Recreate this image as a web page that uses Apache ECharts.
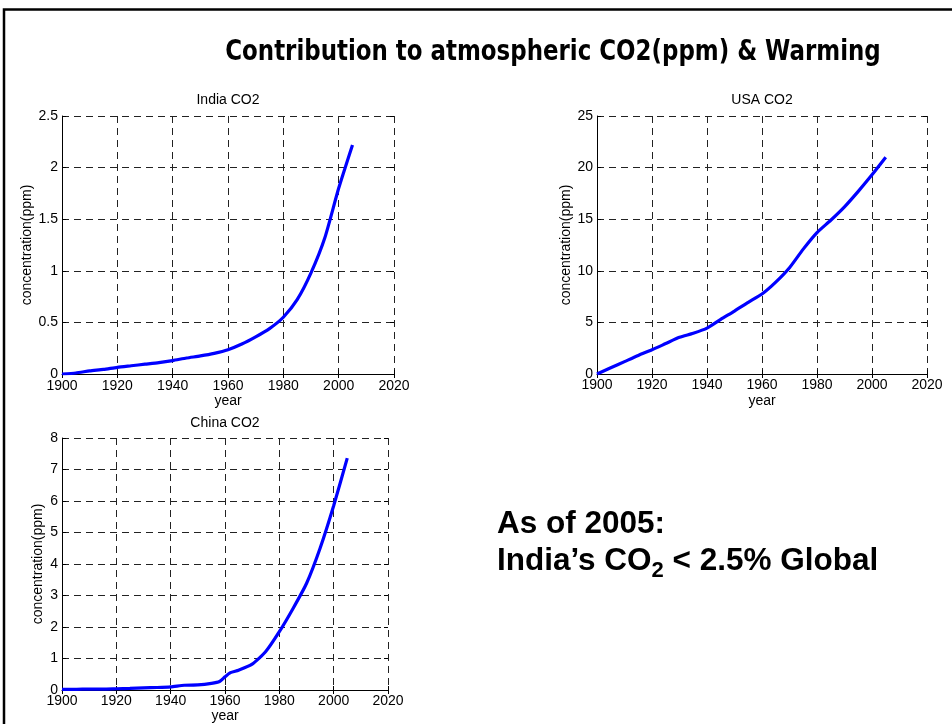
<!DOCTYPE html>
<html><head><meta charset="utf-8">
<script src="https://cdn.jsdelivr.net/npm/echarts@6/dist/echarts.min.js"></script>
<style>html,body{margin:0;padding:0;background:#fff}#chart{width:952px;height:724px}</style>
</head><body><div id="chart"></div>
<script>
// ---- data ----
const years = [1900,1905,1910,1915,1920,1925,1930,1935,1940,1945,1950,1955,1960,1965,1970,1975,1980,1985,1990,1995,2000,2005];
const indiaCO2 = [0,0.01,0.03,0.045,0.065,0.08,0.095,0.11,0.13,0.155,0.175,0.2,0.235,0.29,0.36,0.44,0.55,0.72,0.98,1.32,1.8,2.22];
const usaCO2 = [0,0.6,1.2,1.8,2.35,2.95,3.55,3.95,4.45,5.3,6.1,6.95,7.75,8.9,10.3,12.1,13.7,14.9,16.2,17.7,19.3,21.0];
const chinaYears = [1900,1905,1910,1915,1920,1925,1930,1935,1940,1945,1950,1955,1958,1960,1962,1965,1970,1975,1980,1985,1990,1995,2000,2005];
const chinaCO2 = [0.02,0.02,0.03,0.03,0.04,0.05,0.07,0.08,0.1,0.15,0.16,0.21,0.27,0.42,0.55,0.63,0.82,1.22,1.85,2.58,3.38,4.5,5.85,7.36];
const xTicks = [1900,1920,1940,1960,1980,2000,2020];
const indiaTicks = [0,0.5,1,1.5,2,2.5];
const usaTicks = [0,5,10,15,20,25];
const chinaTicks = [0,1,2,3,4,5,6,7,8];
const panelTitles = ['India CO2','USA CO2','China CO2'];
const mainTitle = 'Contribution to atmospheric CO2(ppm) & Warming';
const xName = 'year';
const yName = 'concentration(ppm)';

// ---- layout ----
const panels = [
  {grid:{left:62, top:116, width:332, height:258}, x:years, y:indiaCO2, yt:indiaTicks, title:panelTitles[0], tx:228, ty:100, nameGap:27, xMargin:5, xNameGap:20},
  {grid:{left:597, top:116, width:330, height:258}, x:years, y:usaCO2, yt:usaTicks, title:panelTitles[1], tx:762, ty:100, nameGap:24, xMargin:4, xNameGap:20},
  {grid:{left:62, top:438, width:326, height:254}, x:chinaYears, y:chinaCO2, yt:chinaTicks, title:panelTitles[2], tx:225, ty:423, nameGap:17, xMargin:4, xNameGap:19}
];
const FONT = "'Liberation Sans', Arial, Helvetica, sans-serif";
const FS = 14;
const gridLine = {show:true, lineStyle:{color:'#222', width:1, type:[7,5]}};

const grid=[], xAxis=[], yAxis=[], series=[], graphic=[];
panels.forEach((p,i)=>{
  grid.push(Object.assign({containLabel:false}, p.grid));
  const xmin=xTicks[0], xmax=xTicks[xTicks.length-1], xint=xTicks[1]-xTicks[0];
  const ymin=p.yt[0], ymax=p.yt[p.yt.length-1], yint=p.yt[1]-p.yt[0];
  xAxis.push({type:'value', gridIndex:i, min:xmin, max:xmax, interval:xint, position:'bottom',
    name:xName, nameLocation:'middle', nameGap:p.xNameGap, nameTextStyle:{color:'#000', fontSize:FS, fontFamily:FONT},
    axisLine:{show:true, onZero:false, lineStyle:{color:'#000', width:1}},
    axisTick:{show:true, inside:true, length:4, lineStyle:{color:'#000'}},
    axisLabel:{color:'#000', fontSize:FS, fontFamily:FONT, margin:p.xMargin, formatter:v=>String(v)},
    splitLine:gridLine});
  xAxis.push({type:'value', gridIndex:i, min:xmin, max:xmax, interval:xint, position:'top',
    axisLine:{show:false}, axisTick:{show:true, inside:true, length:4, lineStyle:{color:'#000'}},
    axisLabel:{show:false}, splitLine:{show:false}});
  yAxis.push({type:'value', gridIndex:i, min:ymin, max:ymax, interval:yint, position:'left',
    name:yName, nameLocation:'middle', nameGap:p.nameGap, nameTextStyle:{color:'#000', fontSize:FS, fontFamily:FONT},
    axisLine:{show:true, onZero:false, lineStyle:{color:'#000', width:1}},
    axisTick:{show:true, inside:true, length:4, lineStyle:{color:'#000'}},
    axisLabel:{color:'#000', fontSize:FS, fontFamily:FONT, margin:4, formatter:v=>String(v)},
    splitLine:gridLine});
  yAxis.push({type:'value', gridIndex:i, min:ymin, max:ymax, interval:yint, position:'right',
    axisLine:{show:false}, axisTick:{show:true, inside:true, length:4, lineStyle:{color:'#000'}},
    axisLabel:{show:false}, splitLine:{show:false}});
  series.push({type:'line', xAxisIndex:2*i, yAxisIndex:2*i, data:p.x.map((v,k)=>[v,p.y[k]]),
    showSymbol:false, smooth:0.2, lineStyle:{color:'#0000ff', width:3.2}, itemStyle:{color:'#0000ff'}, z:5});
  graphic.push({type:'text', style:{text:p.title, x:p.tx, y:p.ty, align:'center', verticalAlign:'middle', fill:'#000', font:FS+'px '+FONT}});
});

graphic.push({type:'rect', shape:{x:4, y:9.5, width:1000, height:800}, style:{fill:'none', stroke:'#000', lineWidth:2.5}, silent:true});
graphic.push({type:'text', x:553, y:53, scaleX:0.91, style:{text:mainTitle, x:0, y:0, align:'center', verticalAlign:'middle', fill:'#000',
  font:"bold 28px 'DejaVu Sans Condensed', 'DejaVu Sans', sans-serif"}});
graphic.push({type:'text', style:{text:'As of 2005:', x:497, y:524, align:'left', verticalAlign:'middle', fill:'#000',
  font:"bold 31.5px 'Liberation Sans', Arial, sans-serif"}});
graphic.push({type:'text', style:{text:'{m|India\u2019s CO}{s|2}{m| < 2.5% Global}', x:497, y:546, align:'left', verticalAlign:'top',
  rich:{m:{fontSize:31.5, fontWeight:'bold', fontFamily:"'Liberation Sans', Arial, sans-serif", lineHeight:30, fill:'#000'},
        s:{fontSize:22, fontWeight:'bold', fontFamily:"'Liberation Sans', Arial, sans-serif", lineHeight:22, padding:[20,0,0,0], fill:'#000'}}}});

const chart = echarts.init(document.getElementById('chart'), null, {renderer:'canvas'});
chart.setOption({backgroundColor:'#fff', animation:false, grid, xAxis, yAxis, series, graphic});
</script></body></html>
